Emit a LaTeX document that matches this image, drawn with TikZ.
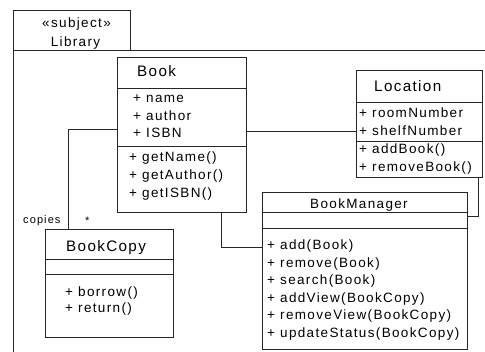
\documentclass[tikz,border=0pt]{standalone}
\usepackage{fontspec}
\newfontfamily\umlf[LetterSpace=10]{Liberation Sans}
\newfontfamily\umltf[LetterSpace=9]{Liberation Sans}
\begin{document}
\begin{tikzpicture}[x=1pt,y=-1pt,
  ln/.style={draw=black!85, line width=0.9pt},
  box/.style={ln, inner sep=0pt, outer sep=0pt, anchor=north west},
  txt/.style={anchor=base west, inner sep=0pt, font=\umlf\fontsize{13.5}{15}\selectfont},
  ttl/.style={anchor=base west, inner sep=0pt, font=\umltf\fontsize{15.2}{17}\selectfont},
  lbl/.style={anchor=base west, inner sep=0pt, font=\umlf\fontsize{11}{13}\selectfont}]
\useasboundingbox (0,0) rectangle (485,352);
\fill[white] (0,0) rectangle (485,352);
% package frame
\node[box, minimum width=117pt, minimum height=40pt] (tab) at (13,10) {};
\coordinate (pkgbl) at (13,352);
\coordinate (pkgtr) at (485,50);
\draw[ln] (pkgbl) -- (tab.south west) -- (pkgtr);
\node[txt, anchor=base] (stereo) at (76.5,27.5) {«subject»};
\node[txt, anchor=base] (pkgname) at (75.5,46.5) {Library};
% Book
\node[box, minimum width=129pt, minimum height=155pt] (book) at (117,57) {};
\draw[ln] (book.west |- 0,88) -- (book.east |- 0,88);
\draw[ln] (book.west |- 0,146) -- (book.east |- 0,146);
\node[ttl] (bookt) at (137,77) {Book};
\node[txt] (b1) at (133,103) {+ name};
\node[txt] (b2) at (133,120.5) {+ author};
\node[txt] (b3) at (133,138) {+ ISBN};
\node[txt] (b4) at (129,162) {+ getName()};
\node[txt] (b5) at (129,180) {+ getAuthor()};
\node[txt] (b6) at (129,198) {+ getISBN()};
% Location
\node[box, minimum width=126pt, minimum height=107pt] (loc) at (356,70) {};
\draw[ln] (loc.west |- 0,102) -- (loc.east |- 0,102);
\draw[ln] (loc.west |- 0,141) -- (loc.east |- 0,141);
\node[ttl] (loct) at (374,91.5) {Location};
\node[txt] (l1) at (359,117.5) {+ roomNumber};
\node[txt] (l2) at (359,135.5) {+ shelfNumber};
\node[txt] (l3) at (359,154) {+ addBook()};
\node[txt] (l4) at (359,172) {+ removeBook()};
% BookManager
\node[box, minimum width=205pt, minimum height=157pt] (mgr) at (262,192) {};
\draw[ln] (mgr.west |- 0,212) -- (mgr.east |- 0,212);
\draw[ln] (mgr.west |- 0,228) -- (mgr.east |- 0,228);
\node[txt] (mgrt) at (310,209) {BookManager};
\node[txt] (m1) at (267,249.5) {+ add(Book)};
\node[txt] (m2) at (267,267.1) {+ remove(Book)};
\node[txt] (m3) at (267,284.7) {+ search(Book)};
\node[txt] (m4) at (267,302.3) {+ addView(BookCopy)};
\node[txt] (m5) at (267,319.9) {+ removeView(BookCopy)};
\node[txt] (m6) at (267,337.5) {+ updateStatus(BookCopy)};
% BookCopy
\node[box, minimum width=128pt, minimum height=108pt] (copy) at (45,229) {};
\draw[ln] (copy.west |- 0,259) -- (copy.east |- 0,259);
\draw[ln] (copy.west |- 0,274) -- (copy.east |- 0,274);
\node[ttl] (copyt) at (66,252) {BookCopy};
\node[txt] (c1) at (65,296.5) {+ borrow()};
\node[txt] (c2) at (65,313) {+ return()};
% connectors
\draw[ln] (book.east |- 0,131) -- (loc.west |- 0,131);
\coordinate (lm) at (478,216);
\draw[ln] (loc.south -| lm) -- (lm) -- (mgr.east |- lm);
\coordinate (bm) at (221,247);
\draw[ln] (book.south -| bm) -- (bm) -- (mgr.west |- bm);
\coordinate (bc) at (68,129);
\draw[ln] (book.west |- bc) -- (bc) -- (copy.north -| bc);
\node[lbl] (copies) at (23,223.5) {copies};
\node[lbl] (mult) at (85,225) {*};
\end{tikzpicture}
\end{document}
